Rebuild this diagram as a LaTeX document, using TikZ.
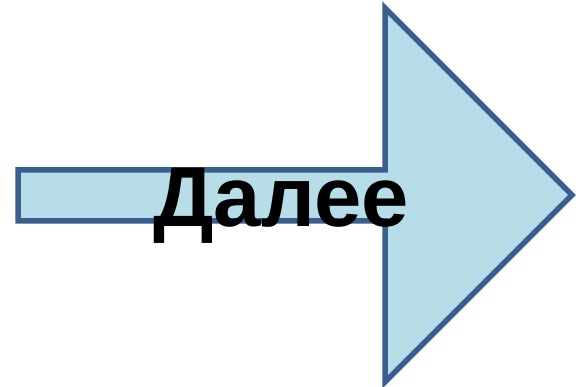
\documentclass[tikz,border=0pt]{standalone}
\usepackage{fontspec}
\setmainfont{Liberation Sans}
\definecolor{arrowline}{HTML}{3A5E8E}
\definecolor{arrowfill}{HTML}{B7DEE8}
\begin{document}
\begin{tikzpicture}[x=1pt,y=-1pt,
  arrowshape/.style={draw=arrowline,fill=arrowfill,line width=5.5pt,line join=miter},
  label/.style={font=\fontsize{85}{85}\selectfont\bfseries,inner sep=0pt,anchor=base}]
\useasboundingbox (0,0) rectangle (586,387);
\draw[arrowshape] (18,170) -- (385,170) -- (385,8) -- (572,195) -- (385,382) -- (385,221) -- (18,221) -- cycle;
\node[label] (t) at (281,227) {Далее};
\end{tikzpicture}
\end{document}
